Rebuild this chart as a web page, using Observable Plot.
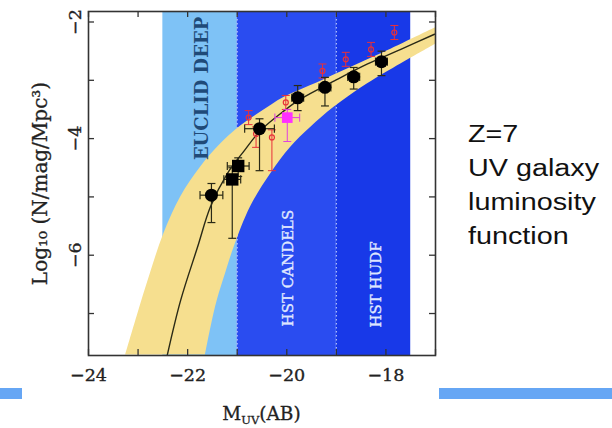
<!DOCTYPE html>
<html><head><meta charset="utf-8">
<script src="https://cdn.jsdelivr.net/npm/d3@7"></script>
<script src="https://cdn.jsdelivr.net/npm/@observablehq/plot@0.6"></script>
<style>
body{margin:0;background:#fff;width:612px;height:428px;overflow:hidden;position:relative}
#chart{position:absolute;left:0;top:0}
.side{position:absolute;left:468px;top:117px;font-family:"Liberation Sans",Arial,sans-serif;font-size:23px;line-height:34px;color:#111;transform:scaleX(1.25);transform-origin:left top;white-space:nowrap}
.bar{position:absolute;top:388px;height:11px;background:#66a6f4}
</style></head><body>
<div id="chart"></div>
<div class="side">Z=7<br>UV galaxy<br>luminosity<br>function</div>
<div class="bar" style="left:0;width:22px"></div>
<div class="bar" style="left:439px;width:173px"></div>
<script>
// Survey regions
const surveyNames = ["EUCLID DEEP", "HST CANDELS", "HST HUDF"];
const surveyFrom = [-22.5, -21, -19];
const surveyTo = [-21, -19, -17.5];
const surveyLabelM = [-21.7, -19.98, -18.2];
const surveyLabelLogPhi = [-3.14, -6.22, -6.5];
const surveyDividers = [-21, -19];

// Best-fit luminosity function
const fitM = [-22.41, -22.14, -21.80, -21.54, -21.20, -20.86, -20.53, -20.05, -19.72, -19.04, -18.37, -17.70, -17.02];
const fitLogPhi = [-7.71, -6.77, -5.86, -5.17, -4.60, -4.21, -3.86, -3.52, -3.32, -3.01, -2.72, -2.47, -2.21];

// Uncertainty band edges
const bandUpperM = [-23.25, -23.02, -22.75, -22.48, -22.14, -21.74, -21.33, -21.0, -20.53, -20.05, -19.38, -18.71, -18.03, -17.0];
const bandUpperLogPhi = [-7.71, -7.05, -6.31, -5.63, -5.0, -4.49, -4.09, -3.83, -3.55, -3.29, -3.04, -2.78, -2.52, -2.10];
const bandLowerM = [-21.64, -21.52, -21.40, -21.23, -21.06, -20.73, -20.32, -19.92, -19.52, -19.04, -18.37, -17.70, -17.35, -17.0];
const bandLowerLogPhi = [-7.71, -7.2, -6.77, -6.3, -5.86, -5.17, -4.60, -4.15, -3.81, -3.46, -3.06, -2.72, -2.55, -2.38];

// Black circles
const circleM = [-21.52, -20.55, -19.78, -19.23, -18.65, -18.09];
const circleLogPhi = [-4.97, -3.83, -3.30, -3.12, -2.94, -2.68];
const circleLo = [-5.44, -4.55, -3.52, -3.44, -3.15, -2.92];
const circleHi = [-4.77, -3.66, -3.09, -2.95, -2.78, -2.50];
const circleMerr = [0.23, 0.3, 0.12, 0.12, 0.12, 0.12];

// Black squares
const squareM = [-21.10, -20.98];
const squareLogPhi = [-4.70, -4.47];
const squareLo = [-5.71, -4.65];
const squareHi = [-4.50, -4.33];
const squareMerr = [0.17, 0.22];

// Red points
const redM = [-20.77, -20.62, -20.30, -20.02, -19.28, -18.81, -18.30, -17.83];
const redLogPhi = [-3.64, -3.92, -3.98, -3.38, -2.84, -2.64, -2.47, -2.18];
const redLo = [-3.76, -4.15, -4.55, -3.50, -2.96, -2.76, -2.59, -2.30];
const redHi = [-3.52, -3.80, -3.85, -3.26, -2.72, -2.52, -2.35, -2.06];

// Magenta point
const magentaM = [-19.99];
const magentaLogPhi = [-3.64];
const magentaLo = [-4.05];
const magentaHi = [-3.50];
const magentaMerr = [0.25];

// Axes
const xTicks = [-24, -23, -22, -21, -20, -19, -18, -17];
const xLabels = [-24, -22, -20, -18];
const yTicks = [-7, -6, -5, -4, -3, -2];
const yLabels = [-6, -4, -2];
const yTitle = "Log₁₀ (N/mag/Mpc³)";

const fmt = d => "\u2212" + Math.abs(d);

function errorSegments(M, Y, lo, hi, mErr) {
  const segs = [];
  M.forEach((m, i) => {
    if (lo) {
      segs.push({x1: m, x2: m, y1: lo[i], y2: hi[i]});
      segs.push({x1: m - 0.08, x2: m + 0.08, y1: lo[i], y2: lo[i]});
      segs.push({x1: m - 0.08, x2: m + 0.08, y1: hi[i], y2: hi[i]});
    }
    if (mErr) {
      const e = mErr[i];
      segs.push({x1: m - e, x2: m + e, y1: Y[i], y2: Y[i]});
      segs.push({x1: m - e, x2: m - e, y1: Y[i] - 0.07, y2: Y[i] + 0.07});
      segs.push({x1: m + e, x2: m + e, y1: Y[i] - 0.07, y2: Y[i] + 0.07});
    }
  });
  return segs;
}

const blackErr = errorSegments(circleM, circleLogPhi, circleLo, circleHi, circleMerr)
  .concat(errorSegments(squareM, squareLogPhi, squareLo, squareHi, squareMerr));
const redErr = errorSegments(redM, redLogPhi, redLo, redHi, null);
const magErr = errorSegments(magentaM, magentaLogPhi, magentaLo, magentaHi, magentaMerr);

const surveys = surveyNames.map((name, i) => ({name, from: surveyFrom[i], to: surveyTo[i], lm: surveyLabelM[i], ly: surveyLabelLogPhi[i]}));
const surveyFill = d3.scaleOrdinal(surveyNames, ["#7ec2f6", "#2a4cf0", "#1839e8"]);

const W = 612, H = 428, mL = 88, mR = 177, mT = 11, mB = 73;
const plotW = W - mL - mR, plotH = H - mT - mB;
const font = "DejaVu Serif";
const ink = "#222";

const chart = Plot.plot({
  width: W, height: H,
  marginLeft: mL, marginRight: mR, marginTop: mT, marginBottom: mB,
  style: {fontFamily: font, background: "transparent"},
  x: {domain: [-24, -17], axis: null},
  y: {domain: [-7.72, -1.82], axis: null},
  marks: [
    Plot.rect(surveys, {x1: "from", x2: "to", fill: d => surveyFill(d.name)}),
    Plot.ruleX(surveyDividers, {x: d => d, stroke: "#c9d6ff", strokeWidth: 1, strokeDasharray: "1.5,2.5"}),
    Plot.area(bandUpperM, {x1: bandUpperM, y1: bandUpperLogPhi, x2: bandLowerM, y2: bandLowerLogPhi, fill: "#f6df8f", curve: "catmull-rom", clip: true}),
    Plot.text(surveys.slice(0, 1), {x: "lm", y: "ly", text: "name", rotate: -90, textAnchor: "middle", lineAnchor: "middle", fill: "#1f4a78", fontSize: 18, fontWeight: "bold", fontFamily: font}),
    Plot.text(surveys.slice(1), {x: "lm", y: "ly", text: "name", rotate: -90, textAnchor: "middle", lineAnchor: "middle", fill: "#dfe6ff", fontSize: 15, fontFamily: font, stroke: "#dfe6ff", strokeWidth: 0.4}),
    Plot.line(fitM, {x: fitM, y: fitLogPhi, stroke: "#2a2a16", strokeWidth: 1.4, curve: "catmull-rom", clip: true}),
    Plot.link(redErr, {x1: "x1", y1: "y1", x2: "x2", y2: "y2", stroke: "#e8303a", strokeWidth: 1}),
    Plot.dot(redM, {x: redM, y: redLogPhi, r: 2.5, stroke: "#e8303a", strokeWidth: 1.2, fill: "none"}),
    Plot.link(magErr, {x1: "x1", y1: "y1", x2: "x2", y2: "y2", stroke: "#e040e0", strokeWidth: 1}),
    Plot.dot(magentaM, {x: magentaM, y: magentaLogPhi, symbol: "square", r: 6, fill: "#ff30ff"}),
    Plot.link(blackErr, {x1: "x1", y1: "y1", x2: "x2", y2: "y2", stroke: "#2a2a16", strokeWidth: 1.2}),
    Plot.dot(circleM, {x: circleM, y: circleLogPhi, r: 6.5, fill: "#000"}),
    Plot.dot(squareM, {x: squareM, y: squareLogPhi, symbol: "square", r: 7, fill: "#000"}),
    // inward ticks
    Plot.tickX(xTicks, {x: d => d, insetTop: plotH - 6, stroke: "#333", strokeWidth: 1.3}),
    Plot.tickX(xTicks, {x: d => d, insetBottom: plotH - 6, stroke: "#333", strokeWidth: 1.3}),
    Plot.tickY(yTicks, {y: d => d, insetRight: plotW - 6, stroke: "#333", strokeWidth: 1.3}),
    Plot.tickY(yTicks, {y: d => d, insetLeft: plotW - 6, stroke: "#333", strokeWidth: 1.3}),
    Plot.frame({stroke: "#333", strokeWidth: 1.6}),
    // tick labels
    Plot.text(xLabels, {x: d => d, frameAnchor: "bottom", dy: 20, textAnchor: "middle", lineAnchor: "middle", text: fmt, fontSize: 17.5, fill: ink, stroke: ink, strokeWidth: 0.35, fontFamily: font}),
    Plot.text(yLabels, {y: d => d, frameAnchor: "left", dx: -13, rotate: -90, textAnchor: "middle", lineAnchor: "middle", text: fmt, fontSize: 17.5, fill: ink, stroke: ink, strokeWidth: 0.35, fontFamily: font}),
    Plot.text([yTitle], {frameAnchor: "left", dx: -48, rotate: -90, textAnchor: "middle", lineAnchor: "middle", text: d => d, fontSize: 20, fill: ink, stroke: ink, strokeWidth: 0.3, fontFamily: font})
  ]
});
document.getElementById("chart").appendChild(chart);

// x-axis title with subscript
const xt = d3.select(chart).append("text")
  .attr("x", mL + plotW / 2).attr("y", 420)
  .attr("text-anchor", "middle").attr("font-family", font).attr("font-size", 18.5)
  .attr("fill", ink).attr("stroke", ink).attr("stroke-width", 0.3);
xt.append("tspan").text("M");
xt.append("tspan").attr("dy", 4).attr("font-size", 11.5).text("UV");
xt.append("tspan").attr("dy", -4).text("(AB)");
</script>
</body></html>
